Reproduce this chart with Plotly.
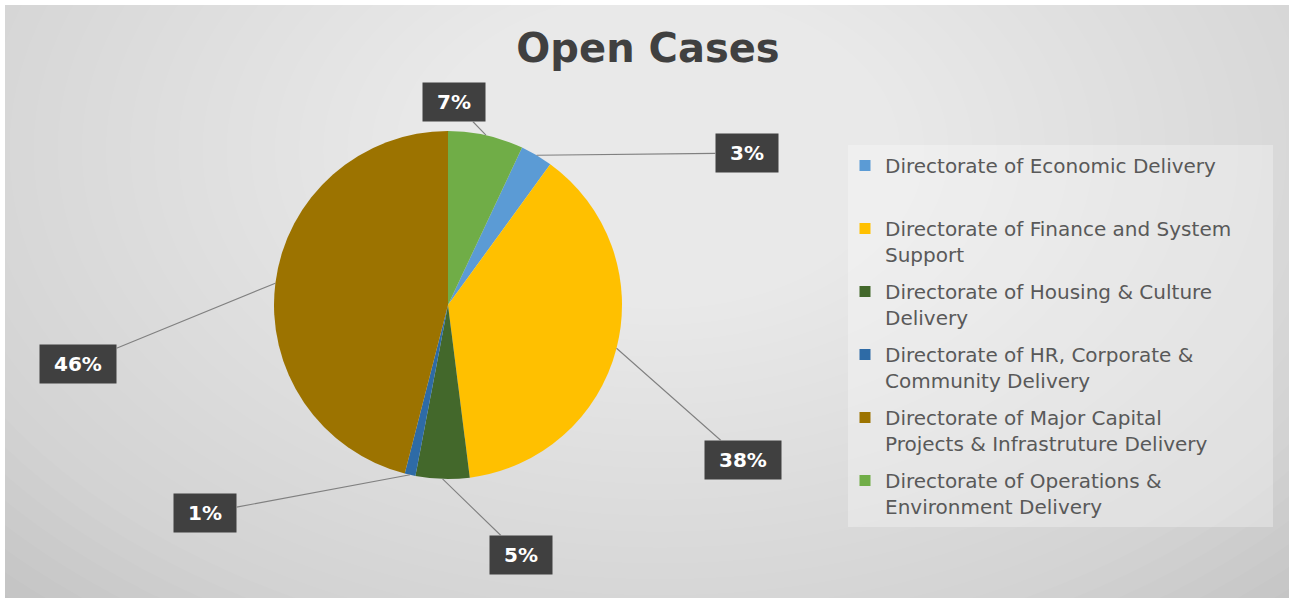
import math
import plotly.graph_objects as go

# ---------------- data ----------------
categories = [
    "Directorate of Economic Delivery",
    "Directorate of Finance and System Support",
    "Directorate of Housing & Culture Delivery",
    "Directorate of HR, Corporate & Community Delivery",
    "Directorate of Major Capital Projects & Infrastruture Delivery",
    "Directorate of Operations & Environment Delivery",
]
legend_labels = [
    "Directorate of Economic Delivery<br>\u00a0",
    "Directorate of Finance and System<br>Support",
    "Directorate of Housing & Culture<br>Delivery",
    "Directorate of HR, Corporate &<br>Community Delivery",
    "Directorate of Major Capital<br>Projects & Infrastruture Delivery",
    "Directorate of Operations &<br>Environment Delivery",
]
values = [3, 38, 5, 1, 46, 7]
title_text = "Open Cases"

# ---------------- style ----------------
colors = ["#5B9BD5", "#FFC000", "#43682B", "#2E6BA6", "#9C7300", "#70AD47"]
W, H = 1289, 598
CX, CY, R = 448, 305, 174          # pie centre / radius in px
# label box centres (px), layout only
label_pos = [(747, 153), (743, 460), (521, 555), (205, 513), (78, 364), (454, 102)]


def px(x):
    return x / W


def py(y):
    return 1 - y / H


total = sum(values)
rotation = 360.0 * values[-1] / total

fig = go.Figure()

fig.add_trace(go.Pie(
    labels=categories,
    values=values,
    sort=False,
    direction="clockwise",
    rotation=rotation,
    textinfo="none",
    hoverinfo="label+percent",
    marker=dict(colors=colors, line=dict(width=0)),
    domain=dict(x=[px(CX - R), px(CX + R)], y=[py(CY + R), py(CY - R)]),
    showlegend=False,
))

# legend entries (one group each so a gap can be set between them)
for i, (lbl, c) in enumerate(zip(legend_labels, colors)):
    fig.add_trace(go.Scatter(
        x=[None], y=[None], mode="markers", name=lbl,
        marker=dict(symbol="square", size=11, color=c),
        legendgroup=f"g{i}", showlegend=True, hoverinfo="skip",
    ))

# percentage labels with leader lines, anchored at slice mid-angles
annotations = []
cum = rotation
for v, (lx, ly) in zip(values, label_pos):
    mid = math.radians(cum + 360.0 * v / total / 2)
    cum += 360.0 * v / total
    tx = CX + R * math.sin(mid)
    ty = CY - R * math.cos(mid)
    annotations.append(dict(
        x=px(tx), y=py(ty), xref="paper", yref="paper",
        ax=lx - tx, ay=ly - ty, axref="pixel", ayref="pixel",
        text="\u00a0" + f"{round(100 * v / total)}%" + "\u00a0",
        showarrow=True, arrowhead=0, arrowwidth=1.1, arrowcolor="#808080",
        bgcolor="#404040", borderpad=7,
        font=dict(family="DejaVu Sans", size=20, color="white", weight="bold"),
    ))

# background: grey panel with soft radial highlight
shapes = [dict(type="rect", xref="paper", yref="paper",
               x0=px(5), x1=1, y0=0, y1=py(5),
               fillcolor="#c3c3c3", line=dict(width=0), layer="below")]
n = 34
gx, gy = 660, 150
for k in range(n):
    f = 1 - k / n
    rx, ry = 120 + 820 * f, 80 + 540 * f
    shapes.append(dict(type="circle", xref="paper", yref="paper",
                       x0=px(gx - rx), x1=px(gx + rx), y0=py(gy + ry), y1=py(gy - ry),
                       fillcolor="rgba(255,255,255,0.045)", line=dict(width=0), layer="below"))
# legend panel
shapes.append(dict(type="rect", xref="paper", yref="paper",
                   x0=px(848), x1=px(1273), y0=py(527), y1=py(145),
                   fillcolor="rgba(255,255,255,0.30)", line=dict(width=0), layer="below"))

fig.update_layout(
    width=W, height=H,
    margin=dict(l=0, r=0, t=0, b=0),
    paper_bgcolor="white",
    plot_bgcolor="rgba(0,0,0,0)",
    xaxis=dict(visible=False), yaxis=dict(visible=False),
    title=dict(text=title_text, x=px(648), y=py(48), xanchor="center", yanchor="middle",
               font=dict(family="DejaVu Sans", size=40, color="#404040", weight="bold")),
    legend=dict(x=px(845), y=py(146), xanchor="left", yanchor="top",
                bgcolor="rgba(0,0,0,0)", tracegroupgap=8, valign="top",
                font=dict(family="DejaVu Sans", size=20, color="#595959")),
    annotations=annotations,
    shapes=shapes,
)

fig.write_html("out.html", config={"displayModeBar": False},
               post_script="document.body.style.margin='0';")
